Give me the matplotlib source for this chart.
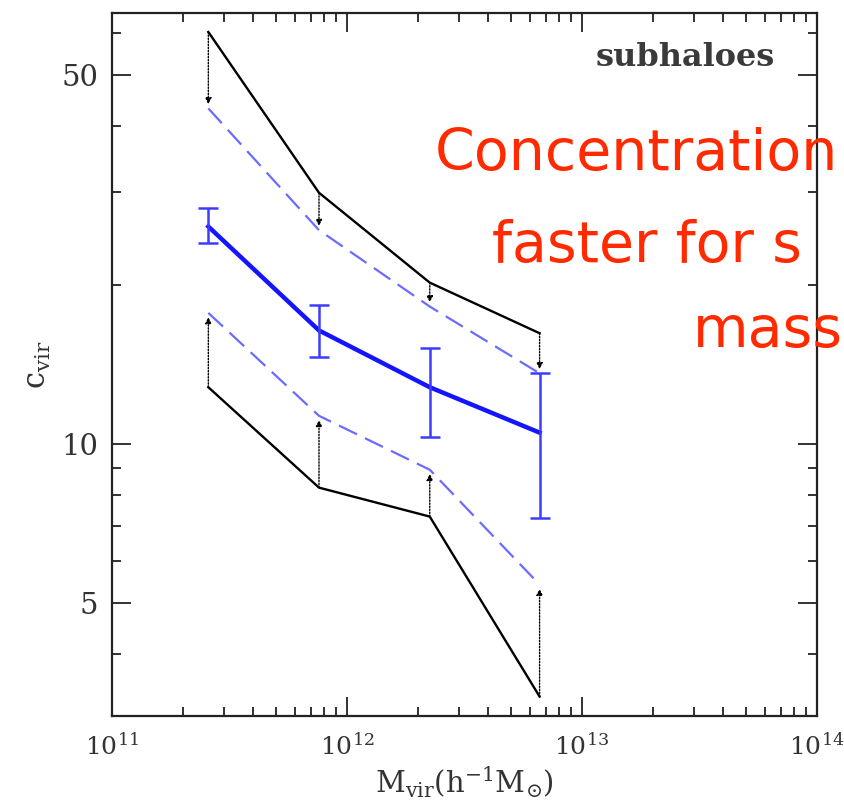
import numpy as np
from matplotlib import pyplot as plt
from matplotlib.ticker import FixedLocator, FixedFormatter, LogLocator, NullFormatter

# halo mass bins (h^-1 Msun)
mass = [2.57e11, 7.6e11, 2.25e12, 6.6e12]

# concentration curves
c_upper_black = [60.3, 29.9, 20.2, 16.2]
c_upper_dash = [43.2, 25.4, 18.2, 13.6]
c_median = [25.8, 16.4, 12.8, 10.5]
c_err_lo = [24.0, 14.6, 10.3, 7.25]
c_err_hi = [28.0, 18.3, 15.2, 13.6]
c_lower_dash = [17.7, 11.3, 8.93, 5.41]
c_lower_black = [12.8, 8.26, 7.28, 3.32]

y_major = [5, 10, 50]
y_minor = [4, 6, 7, 8, 9, 20, 30, 40, 60]

plt.rcParams['font.family'] = 'DejaVu Serif'
plt.rcParams['mathtext.fontset'] = 'dejavuserif'

fig = plt.figure(figsize=(8.45, 8.05), dpi=100)
ax = fig.add_axes([112/845, 1-716/805, (817-112)/845, (716-13)/805])

ax.plot(mass, c_upper_black, color='black', lw=1.7)
ax.plot(mass, c_lower_black, color='black', lw=1.7)
ax.plot(mass, c_upper_dash, color='#6b6bff', lw=1.6, dashes=(9, 4))
ax.plot(mass, c_lower_dash, color='#6b6bff', lw=1.6, dashes=(9, 4))
ax.plot(mass, c_median, color='#1414ff', lw=3.2)
med = np.array(c_median)
yerr = [med - np.array(c_err_lo), np.array(c_err_hi) - med]
ax.errorbar(mass, c_median, yerr=yerr, fmt='none', ecolor='#3c3cff',
            elinewidth=1.8, capsize=7, capthick=1.8)

# dotted arrows from the black envelopes to the dashed curves
for m, a, b in zip(mass, c_upper_black, c_upper_dash):
    ax.annotate('', xy=(m, b), xytext=(m, a),
                arrowprops=dict(arrowstyle='-|>', linestyle=(0, (1, 1.2)),
                                color='black', lw=1.0, mutation_scale=9,
                                shrinkA=0, shrinkB=3))
for m, a, b in zip(mass, c_lower_black, c_lower_dash):
    ax.annotate('', xy=(m, b), xytext=(m, a),
                arrowprops=dict(arrowstyle='-|>', linestyle=(0, (1, 1.2)),
                                color='black', lw=1.0, mutation_scale=9,
                                shrinkA=0, shrinkB=3))

ax.set_xscale('log')
ax.set_yscale('log')
ax.set_xlim(1e11, 1e14)
ax.set_ylim(3.05, 65.5)

ax.xaxis.set_major_locator(LogLocator(base=10, numticks=10))
ax.xaxis.set_minor_locator(LogLocator(base=10, subs=np.arange(2, 10), numticks=20))
ax.xaxis.set_minor_formatter(NullFormatter())
ax.yaxis.set_major_locator(FixedLocator(y_major))
ax.yaxis.set_major_formatter(FixedFormatter([str(v) for v in y_major]))
ax.yaxis.set_minor_locator(FixedLocator(y_minor))
ax.yaxis.set_minor_formatter(NullFormatter())

ax.tick_params(which='both', direction='in', top=True, right=True,
               width=1.3, color='#222222')
ax.tick_params(which='major', length=14)
ax.tick_params(which='minor', length=6.5)
ax.tick_params(axis='y', which='major', labelsize=21, pad=10,
               labelcolor='#333333')
ax.tick_params(axis='x', which='major', labelsize=18, pad=12,
               labelcolor='#333333')
for s in ax.spines.values():
    s.set_linewidth(1.6)
    s.set_color('#222222')

ax.set_xlabel(r'$\mathrm{M_{vir}(h^{-1}M_{\odot})}$', fontsize=21,
              color='#333333', labelpad=4)
ax.set_ylabel(r'$\mathrm{c_{vir}}$', fontsize=22, color='#333333',
              labelpad=6)

ax.text(0.94, 0.925, 'subhaloes', transform=ax.transAxes, ha='right',
        va='baseline', fontsize=23, fontweight='bold', color='#3a3a3a')

red = '#ff2a00'
fig.text(435/845, 1-170/805, 'Concentration', fontsize=41, color=red,
         family='DejaVu Sans')
fig.text(492/845, 1-262/805, 'faster for s', fontsize=41, color=red,
         family='DejaVu Sans')
fig.text(693/845, 1-347/805, 'mass', fontsize=41, color=red,
         family='DejaVu Sans')

fig.savefig('out.png', dpi=100)
